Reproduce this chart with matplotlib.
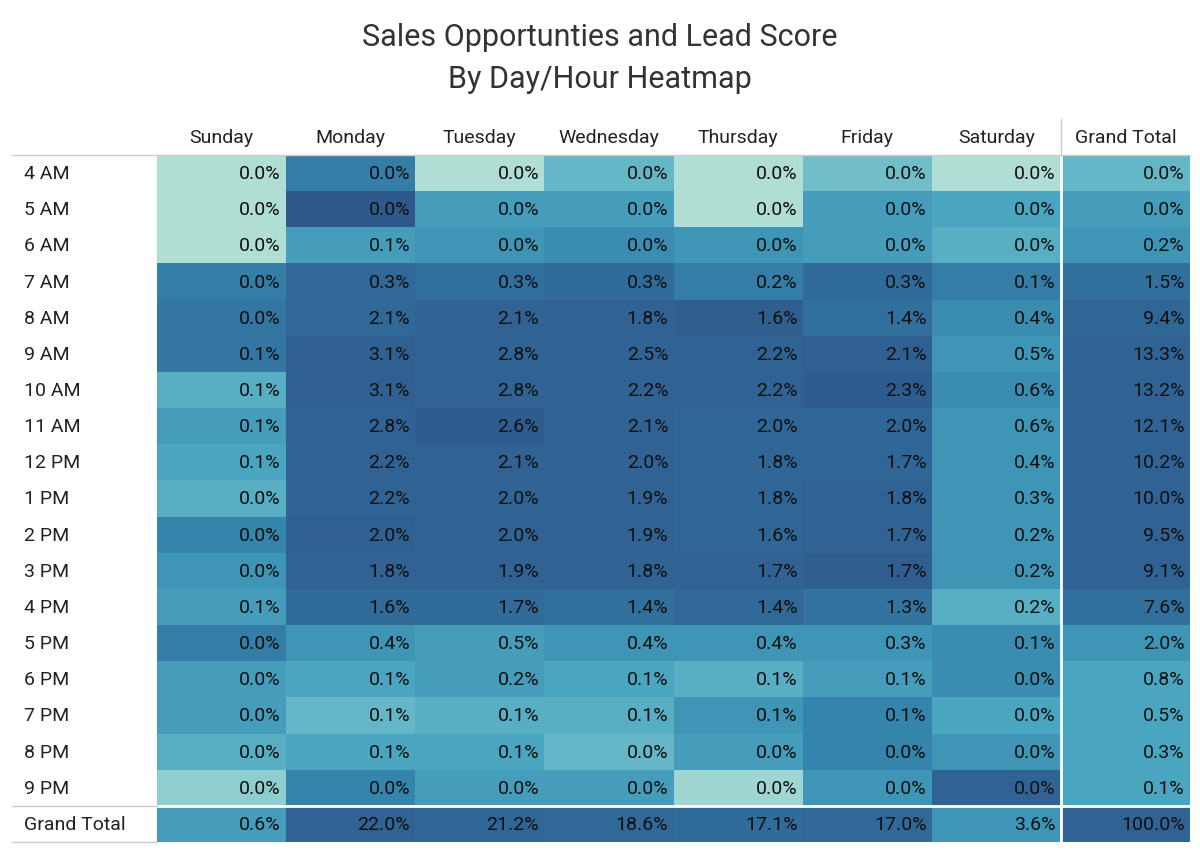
import matplotlib.pyplot as plt
import numpy as np
from matplotlib.colors import LinearSegmentedColormap

plt.rcParams['font.family'] = ['Roboto', 'DejaVu Sans']

days = ['Sunday', 'Monday', 'Tuesday', 'Wednesday', 'Thursday', 'Friday', 'Saturday', 'Grand Total']
hours = ['4 AM', '5 AM', '6 AM', '7 AM', '8 AM', '9 AM', '10 AM', '11 AM', '12 PM', '1 PM',
         '2 PM', '3 PM', '4 PM', '5 PM', '6 PM', '7 PM', '8 PM', '9 PM', 'Grand Total']

# share of opportunities (%)
pct = [
    [0.0, 0.0, 0.0, 0.0, 0.0, 0.0, 0.0, 0.0],
    [0.0, 0.0, 0.0, 0.0, 0.0, 0.0, 0.0, 0.0],
    [0.0, 0.1, 0.0, 0.0, 0.0, 0.0, 0.0, 0.2],
    [0.0, 0.3, 0.3, 0.3, 0.2, 0.3, 0.1, 1.5],
    [0.0, 2.1, 2.1, 1.8, 1.6, 1.4, 0.4, 9.4],
    [0.1, 3.1, 2.8, 2.5, 2.2, 2.1, 0.5, 13.3],
    [0.1, 3.1, 2.8, 2.2, 2.2, 2.3, 0.6, 13.2],
    [0.1, 2.8, 2.6, 2.1, 2.0, 2.0, 0.6, 12.1],
    [0.1, 2.2, 2.1, 2.0, 1.8, 1.7, 0.4, 10.2],
    [0.0, 2.2, 2.0, 1.9, 1.8, 1.8, 0.3, 10.0],
    [0.0, 2.0, 2.0, 1.9, 1.6, 1.7, 0.2, 9.5],
    [0.0, 1.8, 1.9, 1.8, 1.7, 1.7, 0.2, 9.1],
    [0.1, 1.6, 1.7, 1.4, 1.4, 1.3, 0.2, 7.6],
    [0.0, 0.4, 0.5, 0.4, 0.4, 0.3, 0.1, 2.0],
    [0.0, 0.1, 0.2, 0.1, 0.1, 0.1, 0.0, 0.8],
    [0.0, 0.1, 0.1, 0.1, 0.1, 0.1, 0.0, 0.5],
    [0.0, 0.1, 0.1, 0.0, 0.0, 0.0, 0.0, 0.3],
    [0.0, 0.0, 0.0, 0.0, 0.0, 0.0, 0.0, 0.1],
    [0.6, 22.0, 21.2, 18.6, 17.1, 17.0, 3.6, 100.0],
]

# lead score (colour), estimated on a 0-1 scale
score = [
    [0.05, 0.65, 0.05, 0.30, 0.05, 0.25, 0.05, 0.30],
    [0.05, 0.95, 0.45, 0.45, 0.05, 0.45, 0.40, 0.45],
    [0.05, 0.45, 0.50, 0.55, 0.50, 0.45, 0.35, 0.50],
    [0.65, 0.80, 0.75, 0.78, 0.65, 0.78, 0.65, 0.75],
    [0.70, 0.80, 0.85, 0.85, 0.90, 0.75, 0.55, 0.82],
    [0.70, 0.88, 0.85, 0.85, 0.85, 0.88, 0.50, 0.85],
    [0.35, 0.88, 0.85, 0.85, 0.85, 0.92, 0.55, 0.85],
    [0.45, 0.85, 0.92, 0.85, 0.82, 0.82, 0.50, 0.85],
    [0.40, 0.85, 0.85, 0.85, 0.82, 0.82, 0.50, 0.85],
    [0.35, 0.85, 0.85, 0.85, 0.82, 0.85, 0.50, 0.85],
    [0.60, 0.88, 0.85, 0.85, 0.82, 0.85, 0.50, 0.85],
    [0.50, 0.85, 0.85, 0.85, 0.85, 0.90, 0.50, 0.85],
    [0.45, 0.78, 0.78, 0.75, 0.80, 0.72, 0.35, 0.75],
    [0.65, 0.50, 0.45, 0.50, 0.50, 0.50, 0.55, 0.50],
    [0.45, 0.40, 0.45, 0.40, 0.35, 0.45, 0.55, 0.40],
    [0.45, 0.30, 0.35, 0.35, 0.50, 0.60, 0.40, 0.40],
    [0.35, 0.40, 0.40, 0.30, 0.45, 0.60, 0.50, 0.40],
    [0.15, 0.60, 0.45, 0.45, 0.10, 0.50, 0.85, 0.40],
    [0.45, 0.85, 0.82, 0.80, 0.78, 0.80, 0.50, 0.85],
]

cmap = LinearSegmentedColormap.from_list(
    'lead', ['#bfe6d8', '#7fc6cc', '#4aa6c0', '#3584ab', '#306898', '#2f5587'])

fig = plt.figure(figsize=(12, 8.62), dpi=100)
ax = fig.add_axes([157 / 1200, 1 - 843 / 862, 1033 / 1200, 687 / 862])
ax.pcolormesh(np.array(score), cmap=cmap, vmin=0, vmax=1)
ax.set_xlim(0, len(days))
ax.set_ylim(len(hours), 0)
ax.axis('off')

for i in range(len(hours)):
    for j in range(len(days)):
        ax.text(j + 0.96, i + 0.5, f'{pct[i][j]:.1f}%', ha='right', va='center',
                fontsize=14, color='#111111')
    ax.text(-1.03, i + 0.5, hours[i], ha='left', va='center', fontsize=14, color='#222222')
for j, d in enumerate(days):
    ax.text(j + 0.5, -0.5, d, ha='center', va='center', fontsize=14, color='#222222')

# separators
ax.axvline(7, color='white', lw=2)
ax.axhline(18, color='white', lw=2)
ax.plot([-1.12, 8], [0, 0], color='#cccccc', lw=1, clip_on=False)
ax.plot([-1.12, 0], [18, 18], color='#cccccc', lw=1, clip_on=False)
ax.plot([-1.12, 0], [19, 19], color='#cccccc', lw=1, clip_on=False)
ax.plot([7, 7], [-1, 0], color='#cccccc', lw=1, clip_on=False)

fig.text(0.5, 1 - 38 / 862, 'Sales Opportunties and Lead Score', ha='center', va='center',
         fontsize=22, color='#333333')
fig.text(0.5, 1 - 80 / 862, 'By Day/Hour Heatmap', ha='center', va='center',
         fontsize=22, color='#333333')

fig.savefig('out.png', dpi=100, facecolor='white')
